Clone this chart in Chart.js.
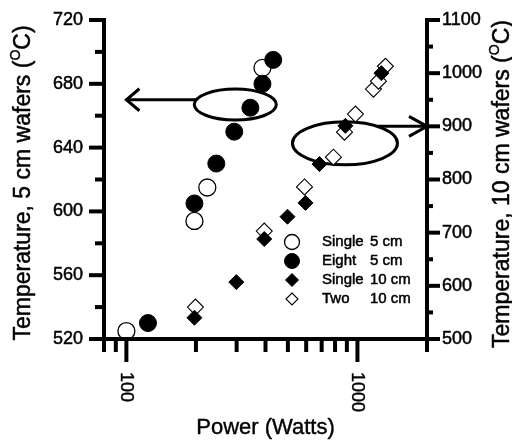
<!DOCTYPE html>
<html><head><meta charset="utf-8">
<script src="https://cdn.jsdelivr.net/npm/chart.js@4.4.1/dist/chart.umd.min.js"></script>
<style>html,body{margin:0;padding:0;background:#fff;}canvas{display:block;}</style>
</head><body>
<canvas id="c" width="512" height="441"></canvas>
<script>
// ---------------- data ----------------
const seriesLabels = ['Single 5 cm', 'Eight 5 cm', 'Single 10 cm', 'Two 10 cm'];
const single5Power  = [100, 197, 224, 388];
const single5Temp   = [525, 594, 615, 690];
const eight5Power   = [124, 197, 245, 293, 344, 388, 432];
const eight5Temp    = [530, 605, 630, 650, 665, 680, 695];
const single10Power = [197, 299, 395, 498, 596, 685, 887, 1270];
const single10Temp  = [540, 607, 688, 730, 756, 829, 901, 1000];
const two10Power    = [199, 395, 590, 787, 879, 980, 1173, 1233, 1322];
const two10Temp     = [560, 703, 786, 842, 889, 923, 970, 985, 1013];
const leftTicks   = [520, 560, 600, 640, 680, 720];
const rightTicks  = [500, 600, 700, 800, 900, 1000, 1100];
const xMinorTicks = [80, 90, 200, 300, 400, 500, 600, 700, 800, 900, 2000];
const xTickLabels = [100, 1000];
const xTitle = 'Power (Watts)';
const leftTitle  = ['Temperature, 5 cm wafers (', 'O', 'C)'];
const rightTitle = ['Temperature, 10 cm wafers (', 'O', 'C)'];
// callouts: ellipse centre in data units, arrow level in data units
const callouts = [
  {axis: 'y',  cx: 296, cy: 667, arrowY: 670, arrowTo: 100,  rx: 41,   ry: 15.5, head: [13, 11]},
  {axis: 'y2', cx: 883, cy: 868, arrowY: 900, arrowTo: 2000, rx: 52.5, ry: 21.5, head: [18, 10]}
];

const FONT = '"Liberation Sans", Arial, Helvetica, sans-serif';
const pts = (xs, ys) => xs.map((v, i) => ({x: v, y: ys[i]}));

const styles = [
  {pointStyle: 'circle',  r: 8.5, fill: '#fff', lw: 1.3, legR: 7.5},
  {pointStyle: 'circle',  r: 8.5, fill: '#000', lw: 1,   legR: 7.5},
  {pointStyle: 'rectRot', r: 7.5, fill: '#000', lw: 1, legR: 6.5},
  {pointStyle: 'rectRot', r: 8, fill: '#fff', lw: 1.1, legR: 6}
];

function ds(i, data, axis, order) {
  const s = styles[i];
  return {
    label: seriesLabels[i], data, yAxisID: axis, order,
    pointStyle: s.pointStyle, pointRadius: s.r, pointHoverRadius: s.r,
    pointBackgroundColor: s.fill, pointBorderColor: '#000', pointBorderWidth: s.lw,
    showLine: false
  };
}

function drawSymbol(ctx, s, x, y, r) {
  ctx.beginPath();
  if (s.pointStyle === 'circle') ctx.arc(x, y, r, 0, Math.PI * 2);
  else { ctx.moveTo(x - r, y); ctx.lineTo(x, y - r); ctx.lineTo(x + r, y); ctx.lineTo(x, y + r); ctx.closePath(); }
  ctx.fillStyle = s.fill; ctx.fill();
  ctx.lineWidth = s.lw; ctx.strokeStyle = '#000'; ctx.stroke();
}

function line(ctx, x1, y1, x2, y2) { ctx.beginPath(); ctx.moveTo(x1, y1); ctx.lineTo(x2, y2); ctx.stroke(); }

function heavyText(ctx, s, x, y, w) {
  ctx.fillText(s, x, y);
  ctx.save(); ctx.lineWidth = w; ctx.lineJoin = 'round'; ctx.strokeStyle = '#000'; ctx.strokeText(s, x, y); ctx.restore();
}

function rotTitle(ctx, parts, cx, cy, size) {
  ctx.save();
  ctx.translate(cx, cy); ctx.rotate(-Math.PI / 2);
  const big = size + 'px ' + FONT, small = Math.round(size * 0.62) + 'px ' + FONT;
  ctx.font = big; const w0 = ctx.measureText(parts[0]).width, w2 = ctx.measureText(parts[2]).width;
  ctx.font = small; const w1 = ctx.measureText(parts[1]).width;
  let x = -(w0 + w1 + w2) / 2;
  ctx.textBaseline = 'middle'; ctx.textAlign = 'left'; ctx.fillStyle = '#000';
  ctx.font = big; heavyText(ctx, parts[0], x, 0, 0.5); x += w0;
  ctx.font = small; heavyText(ctx, parts[1], x, -size * 0.33, 0.4); x += w1;
  ctx.font = big; heavyText(ctx, parts[2], x, 0, 0.5);
  ctx.restore();
}

const decor = {
  id: 'decor',
  beforeDatasetsDraw(chart) {
    const ctx = chart.ctx, xs = chart.scales.x;
    ctx.save();
    ctx.strokeStyle = '#000'; ctx.lineWidth = 3;
    callouts.forEach(c => {
      const ys = chart.scales[c.axis];
      const cx = xs.getPixelForValue(c.cx), cy = ys.getPixelForValue(c.cy);
      ctx.beginPath(); ctx.ellipse(cx, cy, c.rx, c.ry, 0, 0, Math.PI * 2); ctx.stroke();
      const ay = ys.getPixelForValue(c.arrowY), tip = xs.getPixelForValue(c.arrowTo);
      const dy = (ay - cy) / c.ry, dx = c.rx * Math.sqrt(Math.max(0, 1 - dy * dy));
      const dir = tip < cx ? -1 : 1;
      const start = cx + dir * dx;
      line(ctx, start, ay, tip, ay);
      ctx.beginPath();
      ctx.moveTo(tip - dir * c.head[0], ay - c.head[1]);
      ctx.lineTo(tip, ay);
      ctx.lineTo(tip - dir * c.head[0], ay + c.head[1]);
      ctx.stroke();
    });
    ctx.restore();
  },
  afterDraw(chart) {
    const ctx = chart.ctx, a = chart.chartArea;
    const xs = chart.scales.x, yl = chart.scales.y, yr = chart.scales.y2;
    const L = a.left, R = a.right, T = a.top, B = a.bottom;
    ctx.save();
    ctx.strokeStyle = '#000'; ctx.fillStyle = '#000'; ctx.lineWidth = 4; ctx.lineCap = 'butt';
    // axis lines
    line(ctx, L, T - 2, L, B + 2);
    line(ctx, R, T - 2, R, B + 2);
    line(ctx, L - 2, B, R + 2, B);
    // left ticks
    for (let v = yl.min; v <= yl.max; v += 20) {
      const y = yl.getPixelForValue(v), major = leftTicks.includes(v);
      line(ctx, L - (major ? 15 : 9), y, L, y);
    }
    // right ticks
    for (let v = yr.min; v <= yr.max; v += 50) {
      const y = yr.getPixelForValue(v), major = rightTicks.includes(v);
      line(ctx, R, y, R + (major ? 13 : 6), y);
    }
    // bottom ticks
    xMinorTicks.forEach(v => { const x = xs.getPixelForValue(v); line(ctx, x, B, x, B + 13); });
    xTickLabels.forEach(v => { const x = xs.getPixelForValue(v); line(ctx, x, B, x, B + 23); });
    // tick labels
    ctx.font = '18px ' + FONT; ctx.textBaseline = 'middle';
    ctx.textAlign = 'right';
    leftTicks.forEach(v => heavyText(ctx, String(v), L - 21, yl.getPixelForValue(v), 0.5));
    ctx.textAlign = 'left';
    rightTicks.forEach(v => heavyText(ctx, String(v), R + 15, yr.getPixelForValue(v), 0.5));
    xTickLabels.forEach(v => {
      ctx.save(); ctx.translate(xs.getPixelForValue(v), B + 33); ctx.rotate(Math.PI / 2);
      ctx.textAlign = 'left'; ctx.textBaseline = 'middle'; heavyText(ctx, String(v), 0, 0, 0.4);
      ctx.restore();
    });
    // titles
    ctx.font = '22px ' + FONT; ctx.textAlign = 'center'; ctx.textBaseline = 'middle';
    heavyText(ctx, xTitle, (L + R) / 2, 428, 0.4);
    rotTitle(ctx, leftTitle, 24, 183, 23);
    rotTitle(ctx, rightTitle, 503, 184, 23);
    // legend
    const lx = 292, ly0 = 242, dyRow = 19;
    chart.data.datasets.slice().sort((p, q) => seriesLabels.indexOf(p.label) - seriesLabels.indexOf(q.label))
      .forEach((d, i) => {
        const idx = seriesLabels.indexOf(d.label), y = ly0 + i * dyRow;
        drawSymbol(ctx, styles[idx], lx, y, styles[idx].legR);
        const words = d.label.split(' ');
        const name = words[0], size = words.slice(1).join(' ');
        ctx.fillStyle = '#000'; ctx.font = '15px ' + FONT; ctx.textAlign = 'left'; ctx.textBaseline = 'middle';
        heavyText(ctx, name, 322, y, 0.5);
        heavyText(ctx, size, 370, y, 0.5);
      });
    ctx.restore();
  }
};

new Chart(document.getElementById('c'), {
  type: 'scatter',
  data: {
    datasets: [
      ds(0, pts(single5Power, single5Temp), 'y', 3),
      ds(1, pts(eight5Power, eight5Temp), 'y', 2),
      ds(2, pts(single10Power, single10Temp), 'y2', 0),
      ds(3, pts(two10Power, two10Temp), 'y2', 1)
    ]
  },
  options: {
    responsive: false, animation: false, devicePixelRatio: 1,
    layout: {padding: {left: 104, right: 85, top: 20, bottom: 102}},
    plugins: {legend: {display: false}, tooltip: {enabled: false}, title: {display: false}},
    events: [],
    scales: {
      x:  {type: 'logarithmic', min: 80, max: 2000, display: false},
      y:  {type: 'linear', min: 520, max: 720, display: false},
      y2: {type: 'linear', min: 500, max: 1100, display: false, position: 'right'}
    }
  },
  plugins: [decor]
});
</script>
</body></html>
